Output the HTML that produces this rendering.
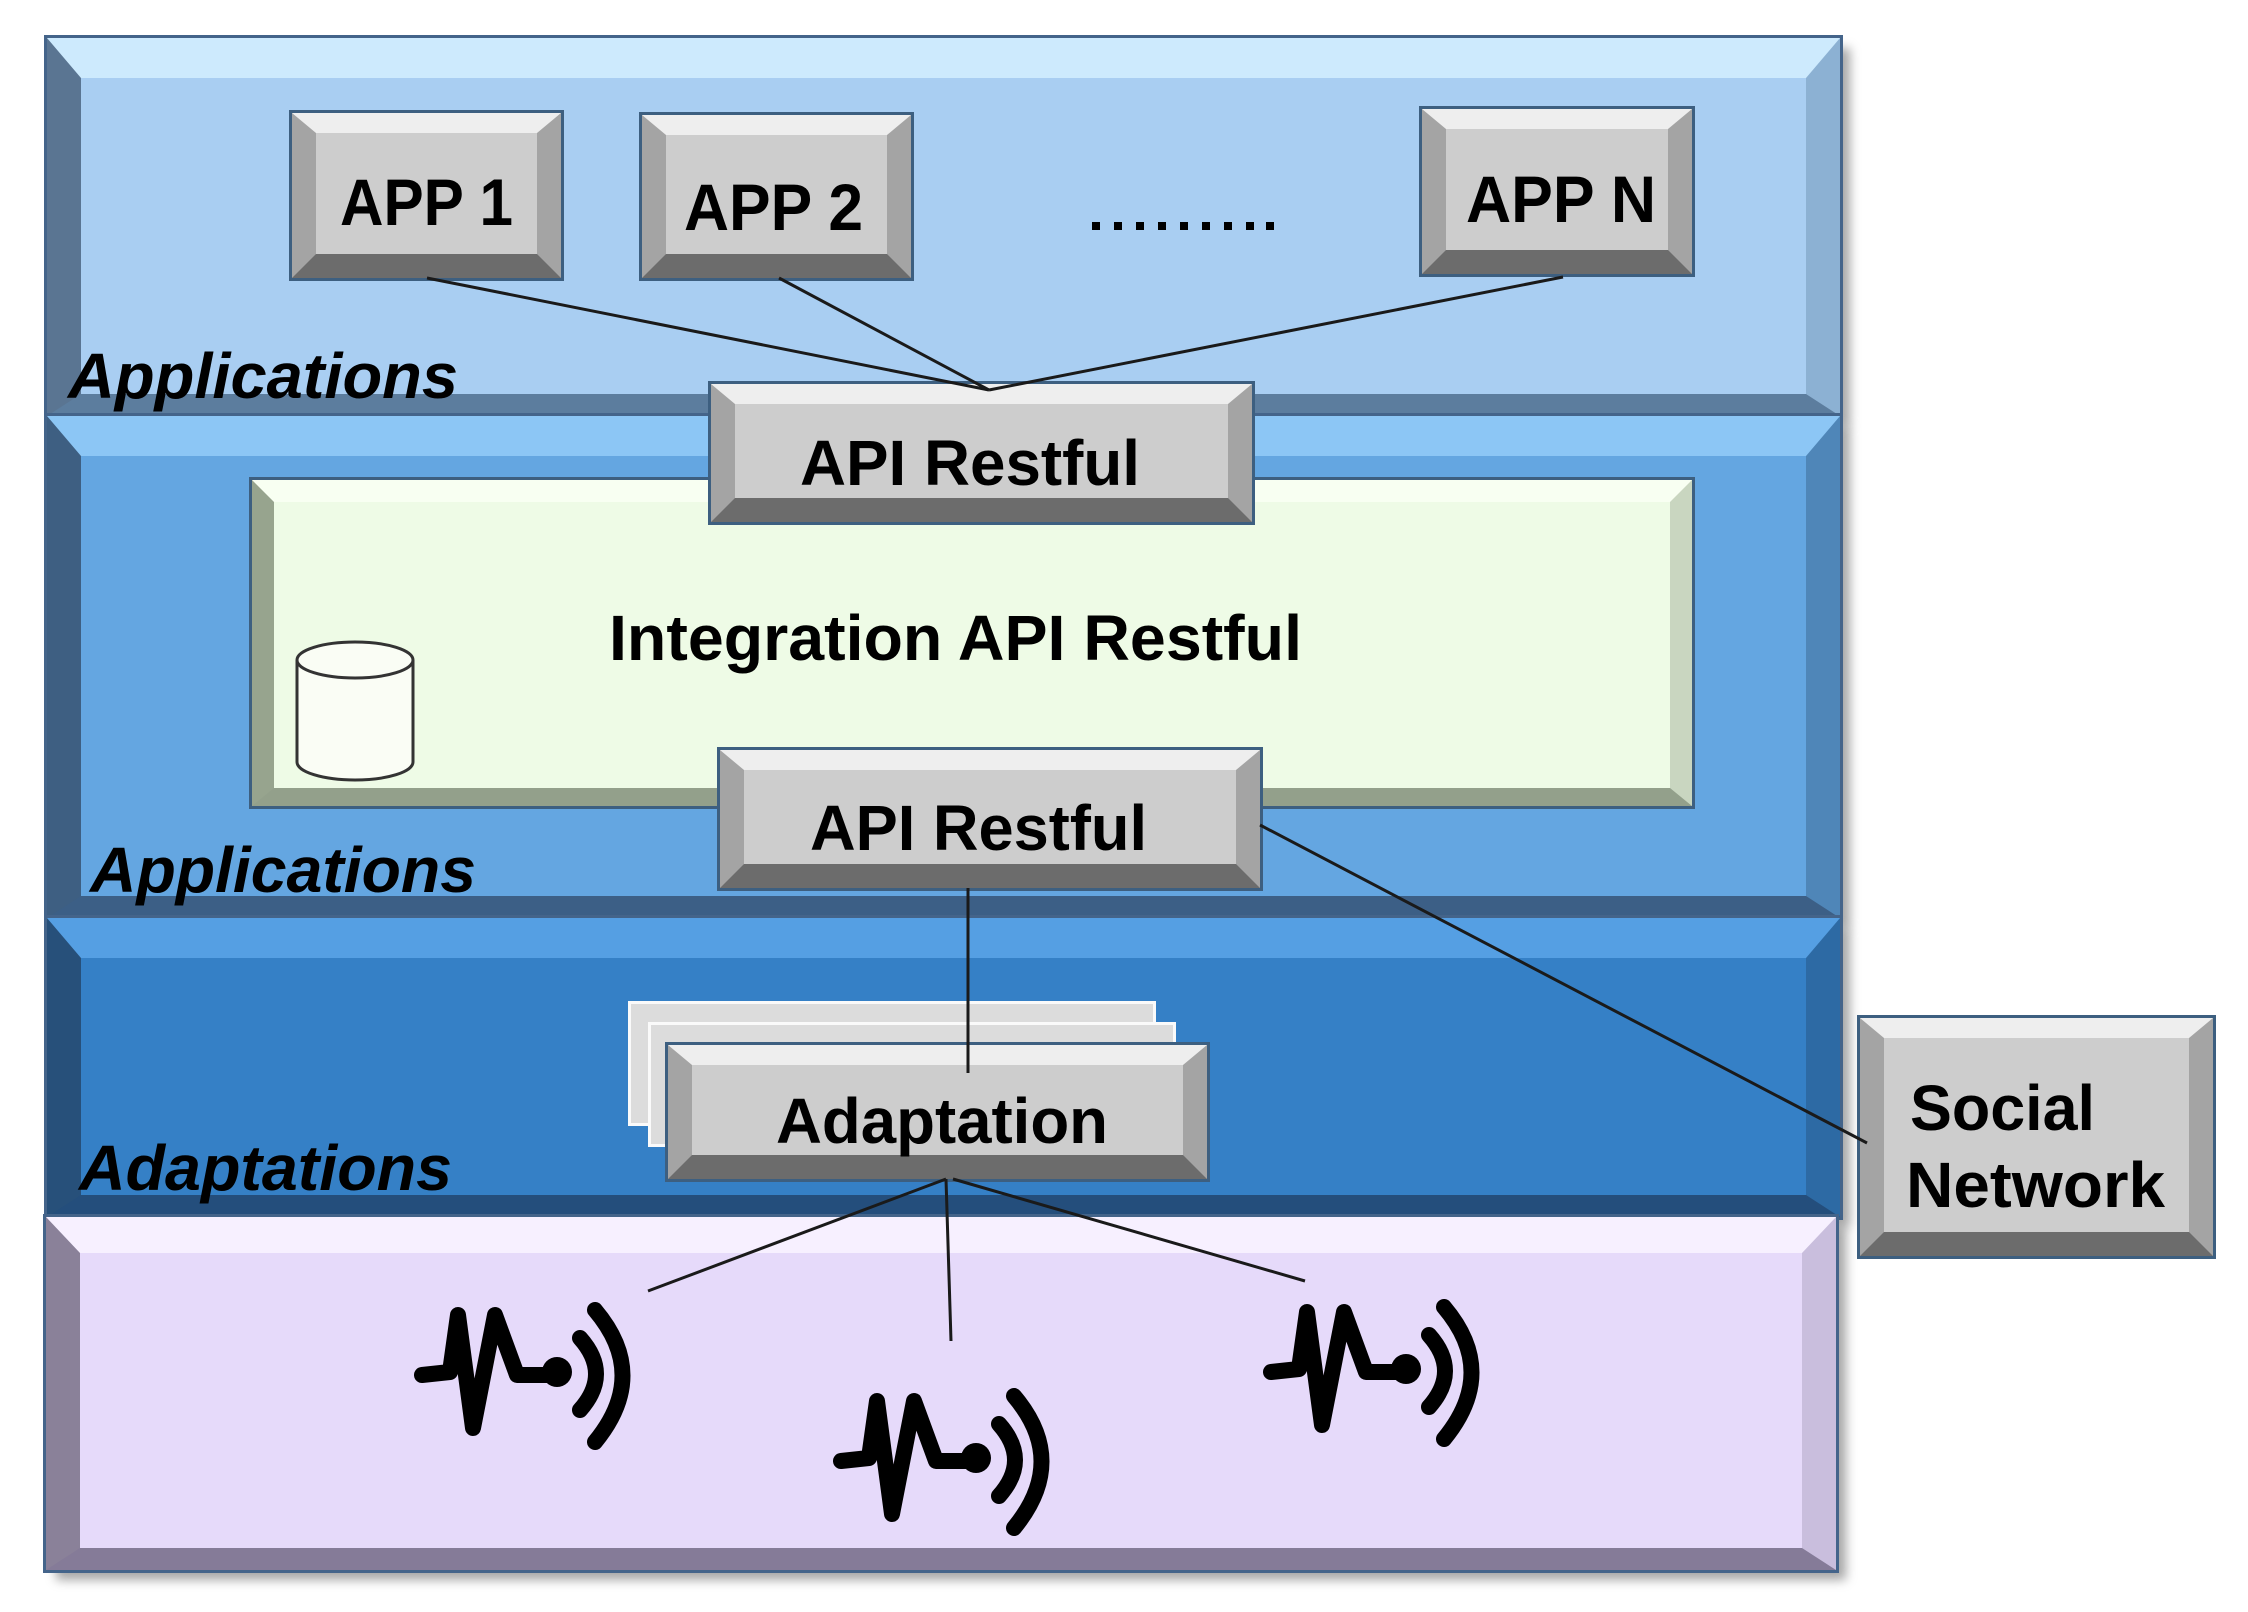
<!DOCTYPE html>
<html><head><meta charset="utf-8"><style>
body{margin:0;width:2248px;height:1612px;background:#fff;position:relative;overflow:hidden;font-family:"Liberation Sans",sans-serif}
.l{position:absolute;box-sizing:border-box;border-style:solid;outline:3px solid #44648a;box-shadow:10px 10px 10px rgba(0,0,0,.35)}
.b{position:absolute;box-sizing:border-box;border-style:solid;border-width:20px 24px 24px 24px;border-color:#eeeeee #a4a4a4 #6c6c6c #a4a4a4;background:#cdcdcd;outline:3px solid #3d5f80}
.s{position:absolute;box-sizing:border-box;background:#dcdcdc;border:3px solid #fafafa}
svg{position:absolute;left:0;top:0}
</style></head><body>
<div class="l" style="left:47px;top:38px;width:1793px;height:378px;background:#a9cef2;border-width:40px 34px 22px 34px;border-color:#cdeafd #8cb1d3 #5c7d9e #5a7592"></div>
<div class="l" style="left:47px;top:416px;width:1793px;height:502px;background:#64a6e1;border-width:40px 34px 22px 34px;border-color:#8cc6f5 #4f86b8 #3c5f86 #3e5f82"></div>
<div class="l" style="left:47px;top:918px;width:1793px;height:299px;background:#3580c6;border-width:40px 34px 22px 34px;border-color:#559fe3 #2d6aa4 #244e7c #27507a"></div>
<div class="l" style="left:46px;top:1217px;width:1790px;height:353px;background:#e6dafa;border-width:36px 34px 22px 34px;border-color:#f7f0ff #c9bedd #857b98 #8a8199"></div>

<div class="b" style="left:292px;top:113px;width:269px;height:165px"></div>
<div class="b" style="left:642px;top:115px;width:269px;height:163px"></div>
<div class="b" style="left:1422px;top:109px;width:270px;height:165px"></div>

<div class="l" style="left:252px;top:480px;width:1440px;height:326px;background:#eefbe6;border-width:22px 22px 18px 22px;border-color:#f8fff2 #c9d6c0 #93a08b #97a48e;box-shadow:none;outline-color:#3d5f80"></div>
<div class="b" style="left:711px;top:384px;width:541px;height:138px"></div>
<div class="b" style="left:720px;top:750px;width:540px;height:138px"></div>

<div class="s" style="left:628px;top:1001px;width:528px;height:125px"></div>
<div class="s" style="left:648px;top:1022px;width:528px;height:125px"></div>
<div class="b" style="left:668px;top:1045px;width:539px;height:134px"></div>

<div class="b" style="left:1860px;top:1018px;width:353px;height:238px"></div>

<svg width="2248" height="1612" viewBox="0 0 2248 1612">
<defs>
<g id="sen" fill="none" stroke="#000" stroke-width="16" stroke-linecap="round" stroke-linejoin="round">
<path d="M22 125 L50 122 L58 65 L73 178 L95 65 L117 125 L155 125"/>
<circle cx="157" cy="122" r="15" fill="#000" stroke="none"/>
<path d="M180 88 Q212 124 180 160"/>
<path d="M195 60 Q250 125 195 192"/>
</g>
</defs>
<g stroke="#1a1a1a" stroke-width="3" fill="none">
<line x1="427" y1="278" x2="989" y2="390"/>
<line x1="779" y1="278" x2="989" y2="390"/>
<line x1="1563" y1="277" x2="989" y2="390"/>
<line x1="968" y1="888" x2="968" y2="1073"/>
<line x1="1260" y1="825" x2="1867" y2="1143"/>
<line x1="946" y1="1179" x2="648" y2="1291"/>
<line x1="946" y1="1179" x2="951" y2="1341"/>
<line x1="953" y1="1179" x2="1305" y2="1281"/>
</g>
<g fill="#fafdf5" stroke="#333" stroke-width="3">
<path d="M297 660 L297 762 A58 18 0 0 0 413 762 L413 660"/>
<ellipse cx="355" cy="660" rx="58" ry="18"/>
</g>
<use href="#sen" x="400" y="1250"/>
<use href="#sen" x="819" y="1336"/>
<use href="#sen" x="1249" y="1247"/>
<g fill="#000">
<rect x="1092" y="222" width="8" height="8"/><rect x="1114" y="222" width="8" height="8"/><rect x="1136" y="222" width="8" height="8"/><rect x="1158" y="222" width="8" height="8"/><rect x="1180" y="222" width="8" height="8"/><rect x="1202" y="222" width="8" height="8"/><rect x="1224" y="222" width="8" height="8"/><rect x="1246" y="222" width="8" height="8"/><rect x="1266" y="222" width="8" height="8"/>
</g>
<g font-family="Liberation Sans, sans-serif" font-weight="bold" fill="#000" lengthAdjust="spacingAndGlyphs">
<text x="340" y="225" font-size="66" textLength="173" lengthAdjust="spacingAndGlyphs">APP 1</text>
<text x="684" y="230" font-size="66" textLength="179" lengthAdjust="spacingAndGlyphs">APP 2</text>
<text x="1466" y="222" font-size="66" textLength="190" lengthAdjust="spacingAndGlyphs">APP N</text>
<text x="800" y="485" font-size="64" textLength="340" lengthAdjust="spacingAndGlyphs">API Restful</text>
<text x="609" y="660" font-size="64" textLength="693" lengthAdjust="spacingAndGlyphs">Integration API Restful</text>
<text x="810" y="850" font-size="64" textLength="337" lengthAdjust="spacingAndGlyphs">API Restful</text>
<text x="776" y="1143" font-size="64" textLength="332" lengthAdjust="spacingAndGlyphs">Adaptation</text>
<text x="1910" y="1130" font-size="64" textLength="185" lengthAdjust="spacingAndGlyphs">Social</text>
<text x="1906" y="1207" font-size="64" textLength="259" lengthAdjust="spacingAndGlyphs">Network</text>
</g>
<g font-family="Liberation Sans, sans-serif" font-weight="bold" font-style="italic" fill="#000">
<text x="68" y="398" font-size="64" textLength="390" lengthAdjust="spacingAndGlyphs">Applications</text>
<text x="90" y="892" font-size="64" textLength="386" lengthAdjust="spacingAndGlyphs">Applications</text>
<text x="79" y="1190" font-size="64" textLength="373" lengthAdjust="spacingAndGlyphs">Adaptations</text>
</g>
</svg>
</body></html>
